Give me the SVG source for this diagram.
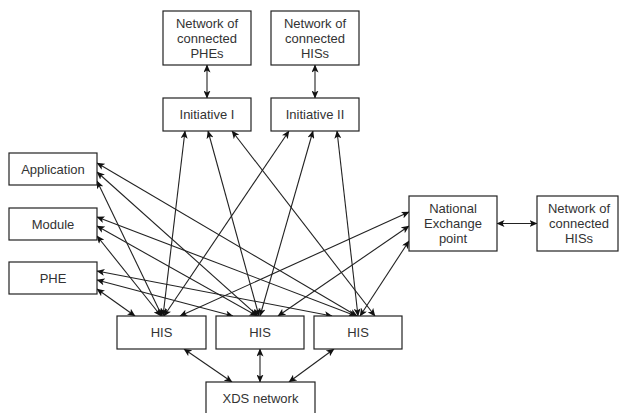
<svg xmlns="http://www.w3.org/2000/svg" width="619" height="413" viewBox="0 0 619 413">
  <defs>
    <marker id="arrow" viewBox="0 0 8 7" markerWidth="8" markerHeight="7" refX="7.5" refY="3.5" markerUnits="userSpaceOnUse" orient="auto-start-reverse">
      <path d="M0,0 L8,3.5 L0,7 L2,3.5 Z" fill="#111"/>
    </marker>
    <style>
      .box { fill: #fff; stroke: #222; stroke-width: 1.2; }
      .lbl { font-family: "Liberation Sans", Arial, sans-serif; font-size: 13px; fill: #333; text-anchor: middle; }
      .edge { fill: none; stroke: #222; stroke-width: 1.1; marker-start: url(#arrow); marker-end: url(#arrow); }
    </style>
  </defs>
  <rect width="619" height="413" fill="#fff"/>

  <!-- connectors -->
  <g id="connectors">
    <line class="edge" x1="207" y1="65" x2="207" y2="98"/>
    <line class="edge" x1="315" y1="65" x2="315" y2="98"/>
    <line class="edge" x1="497" y1="223.5" x2="537" y2="223.5"/>
    <line class="edge" x1="184" y1="349" x2="232" y2="382"/>
    <line class="edge" x1="260" y1="349" x2="260" y2="382"/>
    <line class="edge" x1="334" y1="349" x2="289" y2="382"/>

    <line class="edge" x1="97" y1="163" x2="357" y2="316"/>
    <line class="edge" x1="97" y1="172" x2="258" y2="316"/>
    <line class="edge" x1="97" y1="181" x2="162" y2="316"/>
    <line class="edge" x1="97" y1="217" x2="356" y2="316"/>
    <line class="edge" x1="97" y1="226" x2="257" y2="316"/>
    <line class="edge" x1="97" y1="236" x2="161" y2="316"/>
    <line class="edge" x1="97" y1="271" x2="332" y2="316"/>
    <line class="edge" x1="97" y1="280" x2="233" y2="316"/>
    <line class="edge" x1="97" y1="289" x2="135" y2="316"/>

    <line class="edge" x1="185" y1="131" x2="163" y2="316"/>
    <line class="edge" x1="208" y1="131" x2="259" y2="316"/>
    <line class="edge" x1="232" y1="131" x2="375" y2="316"/>
    <line class="edge" x1="289" y1="131" x2="164" y2="316"/>
    <line class="edge" x1="313" y1="131" x2="260" y2="316"/>
    <line class="edge" x1="337" y1="131" x2="358" y2="316"/>

    <line class="edge" x1="409" y1="212" x2="180" y2="316"/>
    <line class="edge" x1="409" y1="226" x2="278" y2="316"/>
    <line class="edge" x1="409" y1="241" x2="360" y2="316"/>
  </g>

  <!-- nodes -->
  <g id="net-phes">
    <rect class="box" x="163" y="11" width="88" height="54"/>
    <text class="lbl" x="207" y="28">Network of</text>
    <text class="lbl" x="207" y="43">connected</text>
    <text class="lbl" x="207" y="58">PHEs</text>
  </g>
  <g id="net-hiss-top">
    <rect class="box" x="271" y="11" width="88" height="54"/>
    <text class="lbl" x="315" y="28">Network of</text>
    <text class="lbl" x="315" y="43">connected</text>
    <text class="lbl" x="315" y="58">HISs</text>
  </g>
  <g id="initiative-1">
    <rect class="box" x="163" y="98" width="88" height="33"/>
    <text class="lbl" x="207" y="119">Initiative I</text>
  </g>
  <g id="initiative-2">
    <rect class="box" x="271" y="98" width="88" height="33"/>
    <text class="lbl" x="315" y="119">Initiative II</text>
  </g>
  <g id="application">
    <rect class="box" x="9" y="153" width="88" height="32"/>
    <text class="lbl" x="53" y="174">Application</text>
  </g>
  <g id="module">
    <rect class="box" x="9" y="208" width="88" height="32"/>
    <text class="lbl" x="53" y="229">Module</text>
  </g>
  <g id="phe">
    <rect class="box" x="9" y="262" width="88" height="32"/>
    <text class="lbl" x="53" y="283">PHE</text>
  </g>
  <g id="national-exchange">
    <rect class="box" x="409" y="196" width="88" height="55"/>
    <text class="lbl" x="453" y="213">National</text>
    <text class="lbl" x="453" y="228">Exchange</text>
    <text class="lbl" x="453" y="243">point</text>
  </g>
  <g id="net-hiss-right">
    <rect class="box" x="537" y="196" width="81" height="55"/>
    <text class="lbl" x="579" y="213">Network of</text>
    <text class="lbl" x="579" y="228">connected</text>
    <text class="lbl" x="579" y="243">HISs</text>
  </g>
  <g id="his-1">
    <rect class="box" x="117" y="316" width="89" height="33"/>
    <text class="lbl" x="161.5" y="337">HIS</text>
  </g>
  <g id="his-2">
    <rect class="box" x="216" y="316" width="88" height="33"/>
    <text class="lbl" x="260" y="337">HIS</text>
  </g>
  <g id="his-3">
    <rect class="box" x="314" y="316" width="88" height="33"/>
    <text class="lbl" x="358" y="337">HIS</text>
  </g>
  <g id="xds-network">
    <rect class="box" x="206" y="382" width="109" height="40"/>
    <text class="lbl" x="260.5" y="403">XDS network</text>
  </g>
</svg>
